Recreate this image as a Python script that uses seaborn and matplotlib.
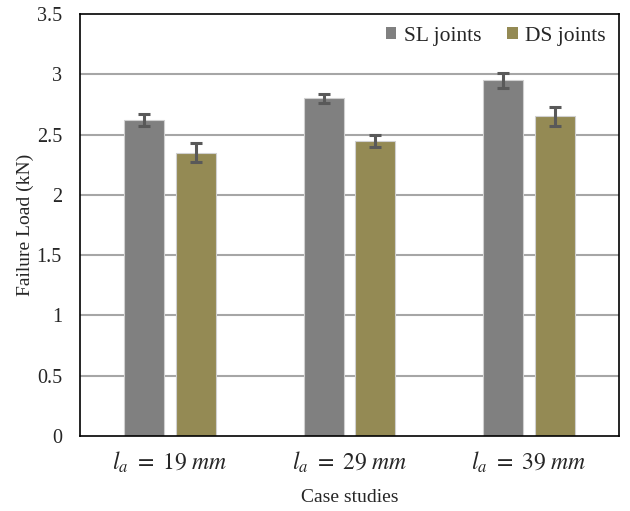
import matplotlib
matplotlib.use("Agg")
import matplotlib.pyplot as plt
import seaborn as sns
import pandas as pd
import numpy as np

categories = [r"$l_a\ =\ 19\ mm$", r"$l_a\ =\ 29\ mm$", r"$l_a\ =\ 39\ mm$"]
series = ["SL joints", "DS joints"]
sl_values = [2.62, 2.80, 2.95]
ds_values = [2.35, 2.45, 2.65]
sl_err = [0.05, 0.04, 0.06]
ds_err = [0.08, 0.05, 0.08]
yticks = [0, 0.5, 1, 1.5, 2, 2.5, 3, 3.5]
ytick_labels = ["0", "0.5", "1", "1.5", "2", "2.5", "3", "3.5"]

colors = {"SL joints": "#808080", "DS joints": "#948A54"}

df = pd.DataFrame({
    "case": categories * 2,
    "series": [series[0]] * 3 + [series[1]] * 3,
    "load": sl_values + ds_values,
    "err": sl_err + ds_err,
})

sns.set_theme(style="white")
plt.rcParams["font.family"] = ["Liberation Serif", "DejaVu Serif"]
plt.rcParams["mathtext.fontset"] = "stix"

fig = plt.figure(figsize=(6.3, 5.11), dpi=100)
ax = fig.add_axes([0.127, 0.1468, 0.8555, 0.8258])

ax.set_axisbelow(True)
for y in yticks[1:-1]:
    ax.axhline(y, color="#A6A6A6", lw=1.5, zorder=0)

sns.barplot(data=df, x="case", y="load", hue="series", palette=colors,
            hue_order=series, order=categories, width=0.578, gap=0.23,
            errorbar=None, ax=ax, saturation=1, edgecolor="#D0D0D0",
            linewidth=0.8, zorder=2)

# error bars from bar positions
bars = [p for p in ax.patches if p.get_height() > 0]
for p in bars:
    cx = p.get_x() + p.get_width() / 2
    h = p.get_height()
    row = df.iloc[(df["load"] - h).abs().argmin()]
    ax.errorbar(cx, h, yerr=row["err"], fmt="none", ecolor="#595959",
                elinewidth=2.2, capsize=4.5, capthick=2.2, zorder=3)

ax.set_ylim(0, 3.5)
ax.set_xlim(-0.5, 2.5)
ax.set_yticks(yticks)
ax.set_yticklabels(ytick_labels, fontsize=14.5)
ax.tick_params(axis="y", length=0, pad=13)
ax.tick_params(axis="x", length=0, pad=10, labelsize=17)
ax.set_ylabel("Failure Load (kN)", fontsize=14, labelpad=2)
ax.set_xlabel("Case studies", fontsize=14, labelpad=10)

for s in ax.spines.values():
    s.set_visible(True)
    s.set_color("black")
    s.set_linewidth(1.2)

leg = ax.legend(loc="upper right", frameon=False, fontsize=15.5,
                handlelength=0.5, handleheight=0.5, handletextpad=0.35,
                columnspacing=1.2, ncol=2, borderaxespad=0.2)
for h in leg.legend_handles:
    h.set_edgecolor("none")

fig.savefig("out.png", dpi=100)
